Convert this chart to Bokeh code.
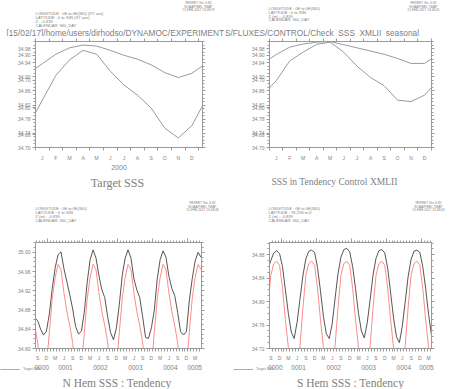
import numpy as np
from bokeh.plotting import figure
from bokeh.models import Range1d, FixedTicker, LinearAxis, Legend, LegendItem
from bokeh.layouts import gridplot
from bokeh.embed import file_html
from bokeh.resources import INLINE
from bokeh.core.properties import value

# ---------------- data ----------------
month_letters = ["J", "F", "M", "A", "M", "J", "J", "A", "S", "O", "N", "D"]

# top-left panel (Target SSS climatology, year 2000)
tl_upper = [34.937, 34.964, 34.982, 34.990, 34.987, 34.975, 34.961, 34.950, 34.934, 34.912, 34.898, 34.910]
tl_lower = [34.834, 34.904, 34.948, 34.975, 34.964, 34.916, 34.877, 34.848, 34.812, 34.755, 34.727, 34.762]

# top-right panel (SSS in Tendency Control XMLII)
tr_upper = [34.963, 34.984, 34.993, 34.998, 35.000, 34.991, 34.982, 34.973, 34.964, 34.952, 34.938, 34.938]
tr_lower = [34.889, 34.945, 34.970, 34.992, 34.998, 34.970, 34.930, 34.898, 34.875, 34.834, 34.830, 34.848]

# bottom panels: monthly series from Aug 0000 to May 0005
nh_model = [34.864, 34.858, 34.840, 34.828, 34.836,
            34.872, 34.925, 34.968, 34.995, 35.001, 34.966, 34.939, 34.912, 34.882, 34.846, 34.830, 34.836,
            34.876, 34.939, 34.985, 35.005, 34.988, 34.952, 34.922, 34.906, 34.866, 34.833, 34.818, 34.843,
            34.892, 34.952, 34.988, 35.005, 34.988, 34.945, 34.922, 34.906, 34.866, 34.823, 34.821, 34.843,
            34.880, 34.945, 34.985, 35.003, 34.990, 34.950, 34.925, 34.910, 34.875, 34.835, 34.828, 34.835,
            34.899, 34.945, 34.982, 35.000, 34.990]
sh_model = [34.855, 34.870, 34.883, 34.887, 34.882,
            34.860, 34.820, 34.780, 34.748, 34.737, 34.765, 34.805, 34.845, 34.873, 34.886, 34.888, 34.884,
            34.858, 34.818, 34.775, 34.745, 34.737, 34.762, 34.806, 34.848, 34.876, 34.889, 34.891, 34.885,
            34.860, 34.822, 34.780, 34.750, 34.738, 34.764, 34.804, 34.846, 34.874, 34.887, 34.889, 34.883,
            34.857, 34.815, 34.772, 34.740, 34.730, 34.758, 34.800, 34.843, 34.872, 34.886, 34.888, 34.884,
            34.860, 34.822, 34.778, 34.742, 34.735]
nh_target_clim = tl_lower
sh_target_clim = [34.823, 34.769, 34.722, 34.695, 34.685, 34.695, 34.725, 34.790, 34.845, 34.865, 34.869, 34.862]

year_labels = ["0000", "0001", "0002", "0003", "0004", "0005"]
quarter_months = {3: "M", 6: "J", 9: "S", 12: "D"}

# ---------------- style ----------------
AX = "#9a9a9a"
TXT = "#808080"
GRAY_LINE = "#9a9a9a"
BLACK_LINE = "#555555"
RED_LINE = "#ff8a8a"
SANS = "Liberation Sans"
SERIF = "Liberation Serif"


def canvas_fig(w, h):
    f = figure(width=w, height=h, x_range=Range1d(0, w), y_range=Range1d(h, 0),
               output_backend="svg", toolbar_location=None, min_border=0,
               x_axis_type=None, y_axis_type=None, frame_align=False)
    f.outline_line_color = None
    f.background_fill_color = "white"
    f.border_fill_color = "white"
    return f


def txt(f, xs, ys, texts, size, align="left", font=SANS, color=TXT, x_range_name="default"):
    f.text(x=xs, y=ys, text=texts, text_font=value(font), text_font_size=value(f"{size}px"),
           text_align=align, text_baseline="middle", text_color=color, x_range_name=x_range_name)


def data_fig(width, fl, fr, frame_h, bottom, xr, yr):
    p = figure(width=width, height=5 + frame_h + bottom, x_range=Range1d(*xr), y_range=Range1d(*yr),
               output_backend="svg", toolbar_location=None, frame_align=False,
               min_border_left=fl, min_border_right=width - fr,
               min_border_top=5, min_border_bottom=bottom)
    p.xgrid.visible = False
    p.ygrid.visible = False
    p.outline_line_color = AX
    p.background_fill_color = "white"
    p.border_fill_color = "white"
    return p


def style_axis(ax, size="5px"):
    ax.axis_line_color = AX
    ax.major_tick_line_color = AX
    ax.minor_tick_line_color = AX
    ax.major_label_text_color = TXT
    ax.major_label_text_font = SANS
    ax.major_label_text_font_size = size
    ax.major_label_standoff = 2
    ax.major_tick_in = 0
    ax.minor_tick_in = 0


def bare_axis(ticks, minor, tick_out=3, minor_out=2):
    ax = LinearAxis(ticker=FixedTicker(ticks=ticks, minor_ticks=minor))
    style_axis(ax, "1px")
    ax.major_label_text_color = None
    ax.major_label_standoff = 0
    ax.major_tick_out = tick_out
    ax.minor_tick_out = minor_out
    return ax


def aligned_range(width, fl, fr, xr):
    k = (fr - fl) / (xr[1] - xr[0])
    return Range1d(xr[0] - fl / k, xr[0] + (width - fl) / k)


def header(f, oy, lines, lx, ly, ferret, fx, fy, ox):
    txt(f, [lx - ox] * len(lines), [ly - oy + i * 3.9 for i in range(len(lines))], lines, 4.0)
    txt(f, [fx - ox] * len(ferret), [fy - oy + i * 3.2 for i in range(len(ferret))], ferret, 3.2,
        align="center")


# ---------------- top panels ----------------
major_y_top = [34.70, 34.74, 34.78, 34.82, 34.86, 34.90, 34.94, 34.98]
ghost_y = [34.9615, 34.8906, 34.813, 34.7365]
ghost_lab = ["34.90", "34.70", "34.80", "34.66"]
minor_y_top = [round(34.70 + 0.01 * k, 2) for k in range(31)]
TOP_YR = (34.70, 35.00)


def top_panel(width, fl, fr, xmax, upper, lower):
    p = data_fig(width, fl, fr, 110, 12, (0, xmax), TOP_YR)
    mids = [m + 0.5 for m in range(12)]
    bounds = [float(m) for m in range(13)]
    xs = [-0.5] + mids + [12.5]
    for ser in (upper, lower):
        ys = [ser[-1]] + list(ser) + [ser[0]]
        p.line(xs, ys, line_color=GRAY_LINE, line_width=1)
    yl = p.yaxis[0]
    yl.ticker = FixedTicker(ticks=major_y_top + ghost_y, minor_ticks=minor_y_top)
    style_axis(yl)
    yl.major_tick_out = 3
    yl.minor_tick_out = 2
    ov = {v: f"{v:.2f}" for v in major_y_top}
    ov.update({g: t for g, t in zip(ghost_y, ghost_lab)})
    yl.major_label_overrides = ov
    xb = p.xaxis[0]
    xb.ticker = FixedTicker(ticks=mids, minor_ticks=bounds)
    style_axis(xb)
    xb.major_tick_out = 0
    xb.minor_tick_out = 3
    xb.major_label_standoff = 4
    xb.major_label_overrides = {m: t for m, t in zip(mids, month_letters)}
    p.add_layout(bare_axis(major_y_top, minor_y_top, 3, 2), "right")
    p.add_layout(bare_axis(bounds, [], 3, 0), "above")
    return p


PATH_A = "[15/02/17]/home/users/dirhodso/DYNAMOC/EXPERIMENT"
PATH_B = "S/FLUXES/CONTROL/Check_SSS_XMLII_seasonal"
PATH_SIZE = 8.3

# row 1 : header (0-36), data (36-163), footer (163-195)
h1 = canvas_fig(224, 36)
header(h1, 0, ["LONGITUDE : 0E to 0E(360) (XY ave)", "LATITUDE : 0 to 90N (XY ave)",
               "Z : -0.839", "CALENDAR: 360_DAY"], 35, 13.3,
       ["FERRET Ver. 6.82", "NOAA/PMEL TMAP", "15-FEB-2017 13:48:29"], 198, 2.7, 0)
txt(h1, [223.6], [32], [PATH_A], PATH_SIZE, align="right")

h2 = canvas_fig(225, 36)
header(h2, 0, ["LONGITUDE : 0E to 0E(360)", "LATITUDE : 0 to 90N",
               "Z (m) : -0.839", "CALENDAR: 360_DAY"], 268, 7.7,
       ["FERRET Ver. 6.82", "NOAA/PMEL TMAP", "15-FEB-2017 13:48:41"], 423, 2.7, 224)
txt(h2, [0.4], [32], [PATH_B], PATH_SIZE, align="left")

TL_XR = (0, 12.28)
TR_XR = (0, 12.02)
d1 = top_panel(224, 35, 202, TL_XR[1], tl_upper, tl_lower)
d2 = top_panel(225, 45, 207, TR_XR[1], tr_upper, tr_lower)

f1 = canvas_fig(224, 32)
f1.extra_x_ranges = {"t": aligned_range(224, 35, 202, TL_XR)}
txt(f1, [TL_XR[1] / 2], [4], ["2000"], 7, align="center", x_range_name="t")
txt(f1, [117], [19], ["Target SSS"], 12, align="center", font=SERIF)

f2 = canvas_fig(225, 32)
txt(f2, [110], [18], ["SSS in Tendency Control XMLII"], 9.5, align="center", font=SERIF)


# ---------------- bottom panels ----------------
def bottom_panel(width, fl, fr, xr, yr, model, target_clim, ymajor):
    p = data_fig(width, fl, fr, 111, 10, xr, yr)
    n = len(model)
    xs = [(7.5 + i) / 12.0 for i in range(n)]
    tgt = [target_clim[(7 + i) % 12] for i in range(n)]
    p.line(xs, model, line_color=BLACK_LINE, line_width=1)
    p.line(xs, tgt, line_color=RED_LINE, line_width=1)
    x0, x1 = xr
    bounds = [y + k / 12.0 for y in range(6) for k in range(12) if x0 <= y + k / 12.0 <= x1]
    qt = []
    qlab = {}
    for y in range(6):
        for m, t in quarter_months.items():
            xv = y + (m - 0.5) / 12.0
            if x0 < xv < x1:
                qt.append(xv)
                qlab[xv] = t
    yb = [float(y) for y in range(1, 6)]
    yl = p.yaxis[0]
    minor = [round(yr[0] + 0.01 * k, 2) for k in range(int(round((yr[1] - yr[0]) / 0.01)) + 1)]
    yl.ticker = FixedTicker(ticks=ymajor, minor_ticks=minor)
    style_axis(yl)
    yl.major_tick_out = 3
    yl.minor_tick_out = 2
    yl.major_label_overrides = {v: f"{v:.2f}" for v in ymajor}
    xb = p.xaxis[0]
    xb.ticker = FixedTicker(ticks=qt, minor_ticks=bounds)
    style_axis(xb)
    xb.major_tick_out = 0
    xb.minor_tick_out = 3
    xb.major_label_standoff = 3
    xb.major_label_overrides = qlab
    p.add_layout(bare_axis(ymajor, minor, 3, 2), "right")
    p.add_layout(bare_axis(yb, bounds, 4, 2), "above")
    return p


def bottom_footer(width, fl, fr, xr, title, title_x, legend_x):
    f = canvas_fig(width, 26)
    f.extra_x_ranges = {"t": aligned_range(width, fl, fr, xr)}
    x0, x1 = xr
    yc, yt = [], []
    for y in range(6):
        a, b = max(y, x0), min(y + 1, x1)
        if b > a:
            yc.append((a + b) / 2)
            yt.append(year_labels[y])
    txt(f, yc, [4] * len(yc), yt, 6.5, align="center", x_range_name="t")
    txt(f, [title_x], [19.5], [title], 11.5, align="center", font=SERIF)
    swatch = f.line(x=np.array([np.nan, np.nan]), y=np.array([np.nan, np.nan]),
                    line_color=RED_LINE, line_width=1)
    leg = Legend(items=[LegendItem(label="Target SSS", renderers=[swatch])],
                 location=(legend_x, 18), label_text_font_size="3.5px", label_text_color=TXT,
                 label_text_font=SANS, glyph_width=20, glyph_height=4, label_height=4,
                 label_standoff=3, padding=0, margin=0, spacing=0,
                 border_line_alpha=0, background_fill_alpha=0)
    f.add_layout(leg, "center")
    return f


# row 2 : header (195-237), data (237-363), footer (363-389)
h3 = canvas_fig(224, 42)
header(h3, 195, ["LONGITUDE : 0E to 0E(360)", "LATITUDE : 0 to 90N",
                 "Z (m) : -0.839", "CALENDAR: 360_DAY"], 35, 208.3,
       ["FERRET Ver. 6.82", "NOAA/PMEL TMAP", "15-FEB-2017 13:48:48"], 202, 202.7, 0)
h4 = canvas_fig(225, 42)
header(h4, 195, ["LONGITUDE : 0E to 0E(360)", "LATITUDE : 78.25S to 0",
                 "Z (m) : -0.839", "CALENDAR: 360_DAY"], 268, 208.3,
       ["FERRET Ver. 6.82", "NOAA/PMEL TMAP", "15-FEB-2017 13:48:03"], 428, 202.7, 224)

BL_XR = (0.646, 5.39)
BR_XR = (0.671, 5.291)
d3 = bottom_panel(224, 35, 201, BL_XR, (34.80, 35.0204), nh_model, nh_target_clim,
                  [34.80, 34.84, 34.88, 34.92, 34.96, 35.00])
d4 = bottom_panel(225, 45, 207, BR_XR, (34.72, 34.901), sh_model, sh_target_clim,
                  [34.72, 34.76, 34.80, 34.84, 34.88])
f3 = bottom_footer(224, 35, 201, BL_XR, "N Hem SSS : Tendency", 116.5, 0)
f4 = bottom_footer(225, 45, 207, BR_XR, "S Hem SSS : Tendency", 126, 9)

grid = gridplot([[h1, h2], [d1, d2], [f1, f2], [h3, h4], [d3, d4], [f3, f4]],
                toolbar_location=None)

open("out.html", "w").write(file_html(grid, INLINE))
